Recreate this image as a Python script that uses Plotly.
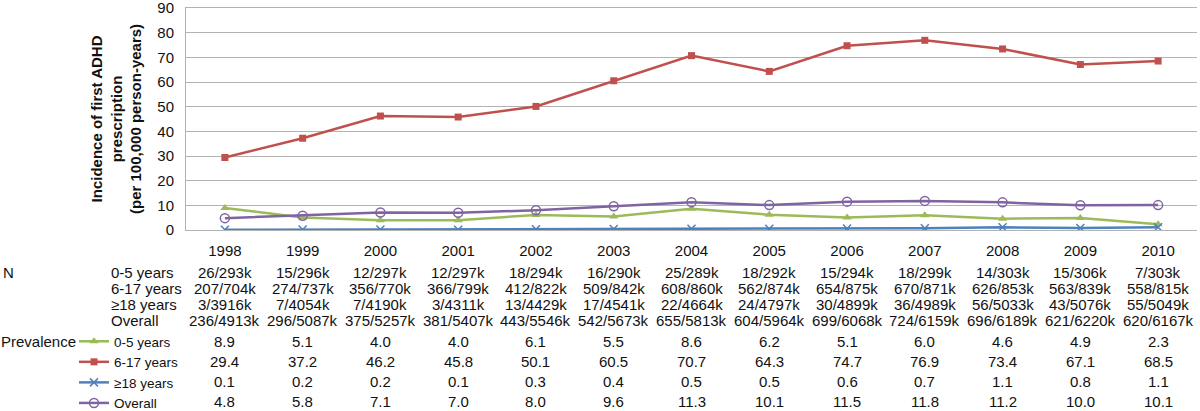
"""ADHD incidence chart with data table underneath."""

import plotly.graph_objects as go

years = ["1998", "1999", "2000", "2001", "2002", "2003", "2004",
         "2005", "2006", "2007", "2008", "2009", "2010"]

prev_0_5 = [8.9, 5.1, 4.0, 4.0, 6.1, 5.5, 8.6, 6.2, 5.1, 6.0, 4.6, 4.9, 2.3]
prev_6_17 = [29.4, 37.2, 46.2, 45.8, 50.1, 60.5, 70.7, 64.3, 74.7, 76.9, 73.4, 67.1, 68.5]
prev_18 = [0.1, 0.2, 0.2, 0.1, 0.3, 0.4, 0.5, 0.5, 0.6, 0.7, 1.1, 0.8, 1.1]
prev_all = [4.8, 5.8, 7.1, 7.0, 8.0, 9.6, 11.3, 10.1, 11.5, 11.8, 11.2, 10.0, 10.1]

n_0_5 = ["26/293k", "15/296k", "12/297k", "12/297k", "18/294k", "16/290k", "25/289k",
         "18/292k", "15/294k", "18/299k", "14/303k", "15/306k", "7/303k"]
n_6_17 = ["207/704k", "274/737k", "356/770k", "366/799k", "412/822k", "509/842k", "608/860k",
          "562/874k", "654/875k", "670/871k", "626/853k", "563/839k", "558/815k"]
n_18 = ["3/3916k", "7/4054k", "7/4190k", "3/4311k", "13/4429k", "17/4541k", "22/4664k",
        "24/4797k", "30/4899k", "36/4989k", "56/5033k", "43/5076k", "55/5049k"]
n_all = ["236/4913k", "296/5087k", "375/5257k", "381/5407k", "443/5546k", "542/5673k",
         "655/5813k", "604/5964k", "699/6068k", "724/6159k", "696/6189k", "621/6220k",
         "620/6167k"]

group_labels = ["0-5 years", "6-17 years", "\u226518 years", "Overall"]

FONT = "Liberation Sans, Arial, Helvetica, sans-serif"
GRID = "#B3B3B3"
W, H = 1200, 411
M_L, M_R, M_T, M_B = 186, 3, 8, 181
PLOT_H = H - M_T - M_B


def py(pixel_y):
    # pixel row (from top of page) -> paper y
    return (H - M_B - pixel_y) / PLOT_H


def px_(pixel_x):
    return (pixel_x - M_L) / (W - M_L - M_R)


series = [
    (group_labels[0], prev_0_5, "#9BBB59", dict(symbol="triangle-up", size=8)),
    (group_labels[1], prev_6_17, "#C0504D", dict(symbol="square", size=7)),
    (group_labels[2], prev_18, "#4F81BD",
     dict(symbol="x-thin", size=8, line=dict(width=1.5, color="#4F81BD"))),
    (group_labels[3], prev_all, "#8064A2",
     dict(symbol="circle-open", size=9, line=dict(width=1.5))),
]

fig = go.Figure()
for name, vals, color, marker in series:
    fig.add_trace(go.Scatter(
        x=years, y=vals, name=name, mode="lines+markers",
        line=dict(color=color, width=2.5),
        marker=dict(color=color, **marker),
    ))

ann = []
# y axis title
ann.append(dict(
    text="<b>Incidence of first ADHD<br>prescription<br>(per 100,000 person-years)</b>",
    xref="paper", yref="paper", x=px_(116), y=py(119), textangle=-90,
    showarrow=False, xanchor="center", yanchor="middle",
    font=dict(size=15),
))

# N block
n_rows = [n_0_5, n_6_17, n_18, n_all]
n_row_y = [272, 288, 304.5, 320.5]
ann.append(dict(text="N", xref="paper", yref="paper", x=px_(1), y=py(272),
                xanchor="left", yanchor="middle", showarrow=False))
for label, row, ry in zip(group_labels, n_rows, n_row_y):
    ann.append(dict(text=label, xref="paper", yref="paper", x=px_(109), y=py(ry),
                    xanchor="left", yanchor="middle", showarrow=False))
    for i, txt in enumerate(row):
        ann.append(dict(text=txt, xref="x", yref="paper", x=i, y=py(ry),
                        xanchor="center", yanchor="middle", showarrow=False))

# Prevalence block
prev_rows = [prev_0_5, prev_6_17, prev_18, prev_all]
prev_row_y = [341.5, 361.5, 381.5, 401.5]
ann.append(dict(text="Prevalence", xref="paper", yref="paper", x=px_(-1), y=py(341.5),
                xanchor="left", yanchor="middle", showarrow=False))
for row, ry in zip(prev_rows, prev_row_y):
    for i, v in enumerate(row):
        ann.append(dict(text=f"{v:.1f}", xref="x", yref="paper", x=i, y=py(ry),
                        xanchor="center", yanchor="middle", showarrow=False))

fig.update_layout(
    width=W, height=H,
    margin=dict(l=M_L, r=M_R, t=M_T, b=M_B, autoexpand=False),
    paper_bgcolor="white", plot_bgcolor="white",
    font=dict(family=FONT, size=15, color="#111111"),
    annotations=ann,
    showlegend=True,
    legend=dict(
        x=px_(74), y=py(326), xanchor="left", yanchor="top",
        bgcolor="rgba(0,0,0,0)", font=dict(size=13.5),
        itemwidth=30, tracegroupgap=0,
    ),
    xaxis=dict(
        type="category", range=[-0.5, 12.5],
        showgrid=False, zeroline=False,
        # top/bottom border stands in for the 0 and 90 gridlines
        showline=True, mirror=True, linecolor=GRID, linewidth=1,
        ticks="outside", ticklen=7, tickcolor="rgba(0,0,0,0)",
        tickfont=dict(size=15),
    ),
    yaxis=dict(
        range=[0, 90], dtick=10,
        showgrid=True, gridcolor=GRID, gridwidth=1,
        showline=True, linecolor=GRID, linewidth=1,
        zeroline=False,
        ticks="outside", ticklen=8, tickcolor="rgba(0,0,0,0)",
        tickfont=dict(size=15), ticklabeloverflow="allow",
    ),
)

# page body has a default 8px margin; drop it so the figure sits at the corner
fig.write_html("out.html", config={"displayModeBar": False},
               post_script="document.body.style.margin = '0';")
